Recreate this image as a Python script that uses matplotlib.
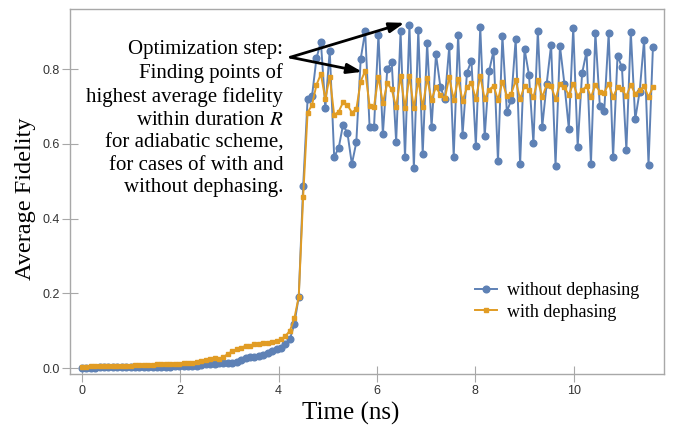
import numpy as np
import matplotlib
matplotlib.use("Agg")
import matplotlib.pyplot as plt

plt.rcParams["font.family"] = "Liberation Serif"
plt.rcParams["mathtext.fontset"] = "stix"

# durations R (ns), evenly sampled
time_ns = np.linspace(0, 11.61, 130)

without_dephasing = [
    0.001, 0.001, 0.001, 0.001, 0.002, 0.002, 0.002, 0.002, 0.002, 0.002, 0.003,
    0.003, 0.003, 0.003, 0.003, 0.003, 0.004, 0.004, 0.004, 0.004, 0.004,
    0.005, 0.005, 0.005, 0.006, 0.006,
    0.007, 0.009, 0.010, 0.011, 0.012, 0.013, 0.013, 0.014, 0.015, 0.017,
    0.022, 0.027, 0.029, 0.031, 0.033, 0.036, 0.040, 0.046, 0.050, 0.053,
    0.065, 0.077, 0.118, 0.191, 0.487,
    0.720, 0.728, 0.829, 0.874, 0.696, 0.850, 0.566, 0.588, 0.651, 0.629,
    0.546, 0.604, 0.828, 0.901, 0.646, 0.645, 0.892, 0.626, 0.801, 0.818,
    0.606, 0.901, 0.564, 0.919, 0.535, 0.905, 0.573, 0.870, 0.645, 0.840,
    0.752, 0.720, 0.861, 0.566, 0.892, 0.624, 0.791, 0.823, 0.595, 0.912,
    0.620, 0.795, 0.849, 0.553, 0.889, 0.686, 0.718, 0.881, 0.546, 0.854,
    0.785, 0.602, 0.903, 0.646, 0.761, 0.865, 0.542, 0.862, 0.761, 0.641,
    0.911, 0.593, 0.789, 0.847, 0.547, 0.898, 0.702, 0.689, 0.896, 0.564,
    0.836, 0.805, 0.584, 0.900, 0.666, 0.740, 0.878, 0.544, 0.859,
]

with_dephasing = [
    0.004, 0.004, 0.005, 0.005, 0.005, 0.005, 0.006, 0.006, 0.006, 0.007, 0.007,
    0.007, 0.008, 0.008, 0.008, 0.009, 0.009, 0.010, 0.010, 0.011, 0.011, 0.012, 0.012,
    0.013, 0.014, 0.015, 0.016, 0.019, 0.022, 0.025, 0.026, 0.024, 0.030,
    0.038, 0.045, 0.050, 0.054, 0.060, 0.058, 0.064, 0.065, 0.066, 0.068,
    0.070, 0.073, 0.077, 0.086, 0.100, 0.133, 0.191, 0.459,
    0.684, 0.704, 0.758, 0.787, 0.720, 0.780, 0.678, 0.686, 0.711, 0.704,
    0.684, 0.693, 0.767, 0.796, 0.702, 0.700, 0.780, 0.709, 0.762, 0.746,
    0.698, 0.782, 0.695, 0.782, 0.695, 0.770, 0.698, 0.776, 0.718, 0.753,
    0.731, 0.722, 0.779, 0.718, 0.773, 0.716, 0.751, 0.764, 0.720, 0.782,
    0.720, 0.745, 0.755, 0.718, 0.767, 0.728, 0.734, 0.770, 0.720, 0.755,
    0.745, 0.725, 0.771, 0.725, 0.758, 0.755, 0.720, 0.761, 0.752, 0.731,
    0.761, 0.728, 0.743, 0.755, 0.725, 0.758, 0.740, 0.737, 0.761, 0.725,
    0.752, 0.746, 0.728, 0.758, 0.734, 0.743, 0.755, 0.725, 0.753,
]

blue = "#5E81B5"
orange = "#E19C24"
frame_gray = "#A8A8A8"

fig = plt.figure(figsize=(6.73, 4.30), dpi=100)
ax = fig.add_axes([0.104, 0.130, 0.883, 0.849])

ax.plot(time_ns, without_dephasing, color=blue, lw=1.4, marker="o",
        markersize=4.8, label="without dephasing")
ax.plot(time_ns, with_dephasing, color=orange, lw=1.4, marker="s",
        markersize=3.2, label="with dephasing")

ax.set_xlim(-0.24, 11.84)
ax.set_ylim(-0.016, 0.961)
ax.set_xticks([0, 2, 4, 6, 8, 10])
ax.set_yticks([0.0, 0.2, 0.4, 0.6, 0.8])
ax.set_yticklabels(["0.0", "0.2", "0.4", "0.6", "0.8"])

for side in ax.spines.values():
    side.set_color(frame_gray)
    side.set_linewidth(1.0)

ax.tick_params(direction="inout", length=11, width=0.8, color=frame_gray,
               labelsize=9, labelcolor="#333333", pad=2)
for lab in ax.get_xticklabels() + ax.get_yticklabels():
    lab.set_family("Liberation Sans")
ax.tick_params(top=False, right=False)

ax.set_xlabel("Time (ns)", fontsize=18)
ax.set_ylabel("Average Fidelity", fontsize=17.5)
ax.xaxis.set_label_coords(0.473, -0.075)
ax.yaxis.set_label_coords(-0.058, 0.48)

note = ("Optimization step:\n"
        "Finding points of\n"
        "highest average fidelity\n"
        "within duration $R$\n"
        "for adiabatic scheme,\n"
        "for cases of with and\n"
        "without dephasing.")
ax.text(4.094, 0.667, note, ha="right", va="center", multialignment="right",
        fontsize=15, linespacing=1.26)

arrow_style = dict(arrowstyle="-|>,head_length=0.9,head_width=0.3",
                   color="black", lw=2, shrinkA=0, shrinkB=0)
ax.annotate("", xy=(6.56, 0.924), xytext=(4.24, 0.832), arrowprops=arrow_style)
ax.annotate("", xy=(5.70, 0.793), xytext=(4.24, 0.832), arrowprops=arrow_style)

ax.legend(loc="upper left", bbox_to_anchor=(0.67, 0.272), frameon=False,
          fontsize=13, handlelength=1.2, handletextpad=0.55,
          labelspacing=0.25, borderaxespad=0)

fig.savefig("out.png", dpi=100)
